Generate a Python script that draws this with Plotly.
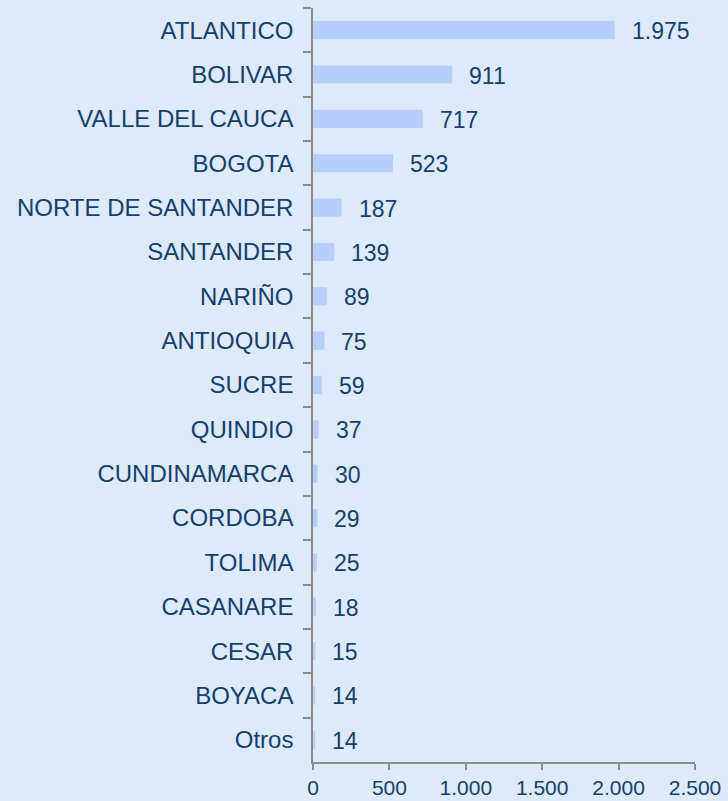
import plotly.graph_objects as go

departamentos = [
    "ATLANTICO", "BOLIVAR", "VALLE DEL CAUCA", "BOGOTA", "NORTE DE SANTANDER",
    "SANTANDER", "NARIÑO", "ANTIOQUIA", "SUCRE", "QUINDIO", "CUNDINAMARCA",
    "CORDOBA", "TOLIMA", "CASANARE", "CESAR", "BOYACA", "Otros",
]
casos = [1975, 911, 717, 523, 187, 139, 89, 75, 59, 37, 30, 29, 25, 18, 15, 14, 14]
x_ticks = [0, 500, 1000, 1500, 2000, 2500]
x_tick_labels = ["0", "500", "1.000", "1.500", "2.000", "2.500"]

text_color = "#173F6B"
axis_color = "#8C8C8C"
family = "Liberation Sans, Arial, sans-serif"
font = dict(family=family, size=23, color=text_color)

fig = go.Figure()
fig.add_trace(go.Bar(
    x=casos,
    y=departamentos,
    orientation="h",
    width=0.41,
    marker=dict(color="#B8CEFA", line=dict(width=0)),
    hoverinfo="x+y",
))

# value labels to the right of each bar
for d, v in zip(departamentos, casos):
    fig.add_annotation(
        x=v, y=d, xref="x", yref="y",
        text=f"{v:,}".replace(",", "."),
        showarrow=False, xanchor="left", yanchor="middle",
        xshift=15, yshift=-1,
        font=dict(size=23, color=text_color, family=family),
    )

fig.update_layout(
    width=728, height=801,
    margin=dict(l=313, r=33, t=8, b=39, autoexpand=False),
    paper_bgcolor="#DDEAFB",
    plot_bgcolor="#DDEAFB",
    font=font,
    showlegend=False,
    separators=",.",
    bargap=0.59,
)
fig.update_xaxes(
    range=[0, 2500],
    tickvals=x_ticks, ticktext=x_tick_labels,
    showgrid=False, zeroline=False, automargin=False,
    showline=True, linecolor=axis_color, linewidth=1.5,
    ticks="outside", ticklen=6, tickcolor=axis_color, tickwidth=1.5,
    tickfont=dict(size=21, color=text_color, family=family),
)
fig.update_yaxes(
    categoryorder="array", categoryarray=departamentos,
    autorange="reversed", automargin=False,
    showgrid=False, zeroline=False,
    showline=True, linecolor=axis_color, linewidth=1.5,
    ticks="outside", ticklen=8, tickcolor=axis_color, tickwidth=1.5,
    tickson="boundaries", ticklabelstandoff=13,
    tickfont=dict(size=24, color=text_color, family=family),
)

fig.write_html("out.html")
